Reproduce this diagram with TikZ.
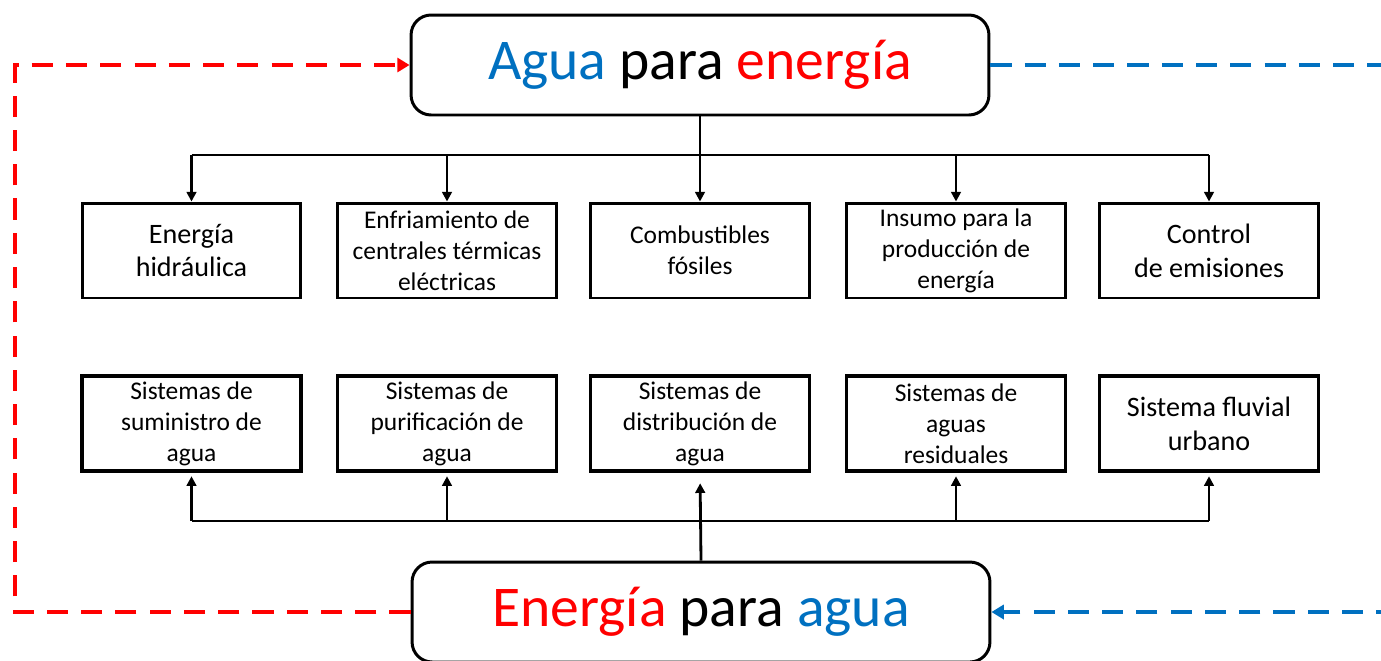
\documentclass[tikz,border=0pt]{standalone}
\usepackage{fontspec}
\setmainfont{Carlito}
\usetikzlibrary{arrows.meta}

\definecolor{aguablue}{RGB}{0,112,192}
\definecolor{enered}{RGB}{255,0,0}

\tikzset{
    titlebox/.style={draw, line width=1.7pt, rounded corners=0.4cm,
        minimum width=11.56cm, minimum height=2cm, inner sep=0pt,
        font=\fontsize{32.8}{38}\selectfont},
    usebox/.style={draw, line width=1.7pt, minimum width=4.38cm,
        minimum height=1.9cm, inner sep=0pt, align=center},
    bigtext/.style={font=\fontsize{16}{19.3}\selectfont},
    smalltext/.style={font=\fontsize{14.5}{17.6}\selectfont},
    link/.style={line width=1.6pt},
    linkarrow/.style={line width=1.6pt, -{Triangle[length=5.5pt,width=5.5pt]}},
    loopline/.style={line width=2.3pt, dash pattern=on 12pt off 7.5pt,
        -{Triangle[length=7pt,width=8pt]}},
}

\begin{document}
\begin{tikzpicture}[x=0.02cm, y=-0.02cm]
    % Page frame (pixel units, y grows downwards)
    \useasboundingbox (0,0) rectangle (1381,660);

    % The two main boxes
    \node[titlebox] (apE) at (700,65)
        {\textcolor{aguablue}{Agua} para \textcolor{enered}{energía}};
    \node[titlebox] (epA) at (701,612)
        {\textcolor{enered}{Energía} para \textcolor{aguablue}{agua}};

    % Upper row: uses of water for energy
    \node[usebox, bigtext]   (hidro)  at (191.5,250.5) {Energía\\hidráulica};
    \node[usebox, smalltext] (enfri)  at (447,250.5)   {Enfriamiento de\\centrales térmicas\\eléctricas};
    \node[usebox, smalltext] (combu)  at (700,250.5)   {Combustibles\\fósiles};
    \node[usebox, smalltext] (insumo) at (956,250.5)   {Insumo para la\\producción de\\energía};
    \node[usebox, bigtext]   (emis)   at (1209,250.5)  {Control\\de emisiones};

    % Lower row: uses of energy for water
    \node[usebox, smalltext, line width=2pt] (sumin)    at (191.5,423.5) {Sistemas de\\suministro de\\agua};
    \node[usebox, smalltext, line width=2pt] (purif)    at (447,423.5)   {Sistemas de\\purificación de\\agua};
    \node[usebox, smalltext, line width=2pt] (distr)    at (700,423.5)   {Sistemas de\\distribución de\\agua};
    \node[usebox, smalltext, line width=2pt] (residual) at (956,423.5)   {Sistemas de\\aguas\\residuales};
    \node[usebox, bigtext, line width=2pt]   (fluvial)  at (1209,423.5)  {Sistema fluvial\\urbano};

    % Bus lines
    \coordinate (busTop) at (700,155);
    \coordinate (busBot) at (698,521);

    \draw[link] (apE.south) -- (apE.south |- busTop);
    \draw[link] (hidro.north |- busTop) -- (emis.north |- busTop);
    \foreach \n in {hidro,enfri,combu,insumo,emis}
        \draw[linkarrow] (\n.north |- busTop) -- (\n.north);

    \draw[linkarrow, shorten >=6pt] (epA.north) -- (distr.south);
    \draw[link] (sumin.south |- busBot) -- (fluvial.south |- busBot);
    \foreach \n in {sumin,purif,residual,fluvial}
        \draw[linkarrow, shorten >=2pt] (\n.south |- busBot) -- (\n.south);

    % Feedback loops (the blue one runs off the right edge)
    \coordinate (redTL) at (15,65);
    \coordinate (blueTR) at (1400,65);
    \coordinate (blueBR) at (1400,612);
    \draw[loopline, enered] (epA.west) -| (redTL) -- (apE.west);
    \draw[loopline, aguablue] (apE.east) -- (blueTR) -- (blueBR) -- (epA.east);
\end{tikzpicture}
\end{document}
